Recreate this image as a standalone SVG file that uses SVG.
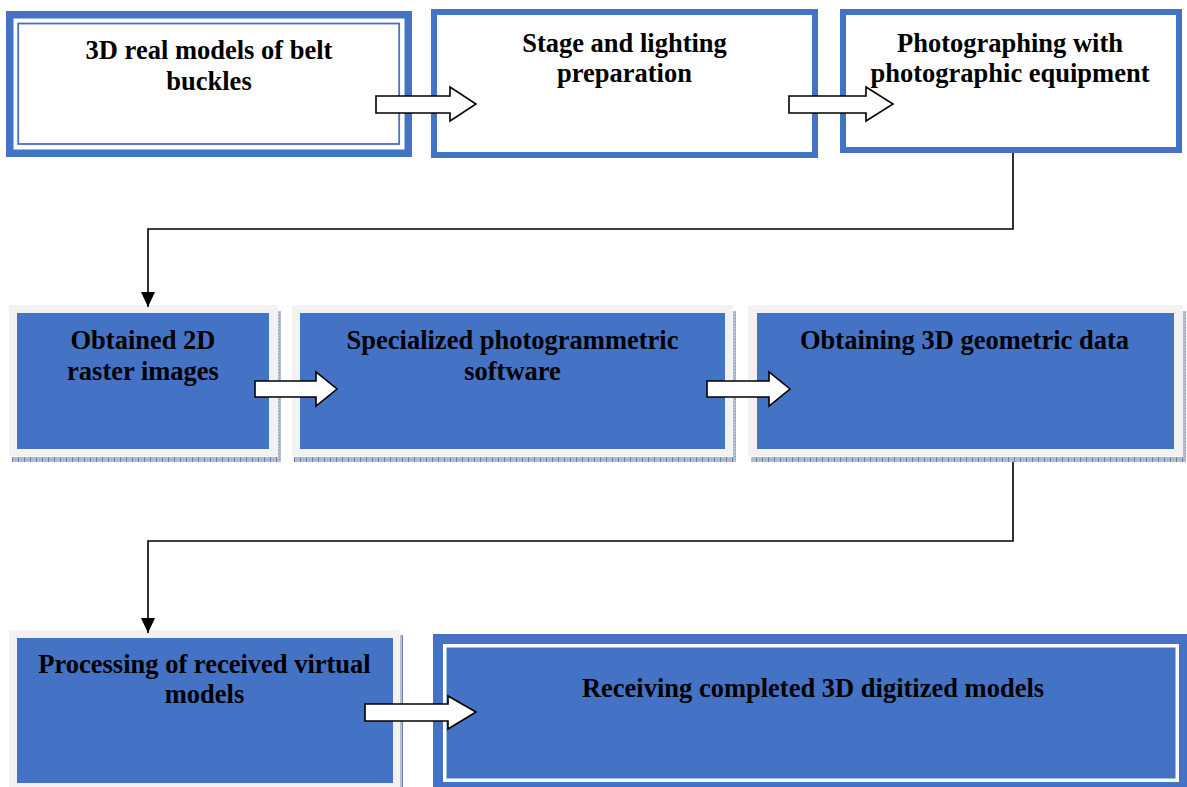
<svg xmlns="http://www.w3.org/2000/svg" width="1187" height="787" viewBox="0 0 1187 787">
<defs>
<style>
.t{font-family:"Liberation Serif","Times New Roman",serif;font-weight:bold;font-size:26.5px;fill:#000;text-anchor:middle}
.wb{fill:#fff;stroke:#4472C4}
.frame{fill:#F2F2F2}
.blue{fill:#4472C4}
.sh{fill:url(#hatch)}
.conn{fill:none;stroke:#000;stroke-width:1.6}
.blk{fill:#fff;stroke:#000;stroke-width:1.6;stroke-linejoin:miter}
</style>
<pattern id="hatch" width="6" height="6" patternUnits="userSpaceOnUse">
<rect width="6" height="6" fill="#B4BED2"/>
<rect x="0" y="0" width="1" height="6" fill="#6F7FA3"/>
<rect x="3" y="0" width="1" height="1" fill="#8A98B8"/>
<rect x="3" y="3" width="1" height="1" fill="#8A98B8"/>
</pattern>
<marker id="ah" viewBox="0 0 15 14" refX="15" refY="7" markerWidth="15" markerHeight="14" markerUnits="userSpaceOnUse" orient="auto">
<path d="M0,0 L15,7 L0,14 Z" fill="#000"/>
</marker>
</defs>

<g id="node1">
<rect class="wb" x="9.75" y="14.75" width="398.5" height="138.5" stroke-width="7.5"/>
<rect fill="none" stroke="#4472C4" stroke-width="1.8" x="18.2" y="23.5" width="381" height="120.5"/>
<text class="t" x="209" y="59">3D real models of belt</text>
<text class="t" x="209" y="90">buckles</text>
</g>

<g id="node2">
<rect class="wb" x="434" y="12" width="381" height="143" stroke-width="6"/>
<text class="t" x="624.5" y="52">Stage and lighting</text>
<text class="t" x="624.5" y="82">preparation</text>
</g>

<g id="node3">
<rect class="wb" x="843" y="12" width="336" height="138" stroke-width="6"/>
<text class="t" x="1010" y="52">Photographing with</text>
<text class="t" x="1010" y="82">photographic equipment</text>
</g>

<g id="node4">
<rect class="sh" x="278" y="311" width="3" height="151"/>
<rect class="sh" x="12" y="457" width="269" height="5"/>
<rect class="frame" x="9" y="305" width="269" height="151"/>
<rect class="blue" x="17" y="313" width="252" height="136"/>
<text class="t" x="143" y="349">Obtained 2D</text>
<text class="t" x="143" y="380">raster images</text>
</g>

<g id="node5">
<rect class="sh" x="733" y="311" width="3" height="151"/>
<rect class="sh" x="294" y="457" width="442" height="5"/>
<rect class="frame" x="292" y="305" width="441" height="151"/>
<rect class="blue" x="300" y="313" width="425" height="136"/>
<text class="t" x="512.5" y="349">Specialized photogrammetric</text>
<text class="t" x="512.5" y="380">software</text>
</g>

<g id="node6">
<rect class="sh" x="1183" y="311" width="3" height="151"/>
<rect class="sh" x="751" y="457" width="435" height="5"/>
<rect class="frame" x="748" y="305" width="435" height="151"/>
<rect class="blue" x="757" y="313" width="417" height="136"/>
<text class="t" x="964.5" y="349">Obtaining 3D geometric data</text>
</g>

<g id="node7">
<rect class="sh" x="400" y="635" width="3" height="152"/>
<rect class="frame" x="9" y="630" width="391" height="157"/>
<rect class="blue" x="17" y="638" width="376" height="145"/>
<text class="t" x="204.5" y="673">Processing of received virtual</text>
<text class="t" x="204.5" y="703">models</text>
</g>

<g id="node8">
<rect class="blue" x="433" y="634" width="754" height="153"/>
<rect fill="none" stroke="#fff" stroke-width="3.5" x="444.75" y="645.75" width="732.5" height="134.5"/>
<text class="t" x="813" y="697">Receiving completed 3D digitized models</text>
</g>

<g id="connectors">
<path class="conn" d="M1013,153 V229 H148 V307" marker-end="url(#ah)"/>
<path class="conn" d="M1013,462 V541 H148 V633" marker-end="url(#ah)"/>
<polygon class="blk" points="376,96 450,96 450,87 476,104 450,121 450,113 376,113"/>
<polygon class="blk" points="789,96 866,96 866,87 893,104 866,121 866,113 789,113"/>
<polygon class="blk" points="255,381 316,381 316,372 337,389 316,406 316,397 255,397"/>
<polygon class="blk" points="707,381 769,381 769,372 790,389 769,406 769,397 707,397"/>
<polygon class="blk" points="365,704 448,704 448,696 476,712 448,729 448,721 365,721"/>
</g>
</svg>
